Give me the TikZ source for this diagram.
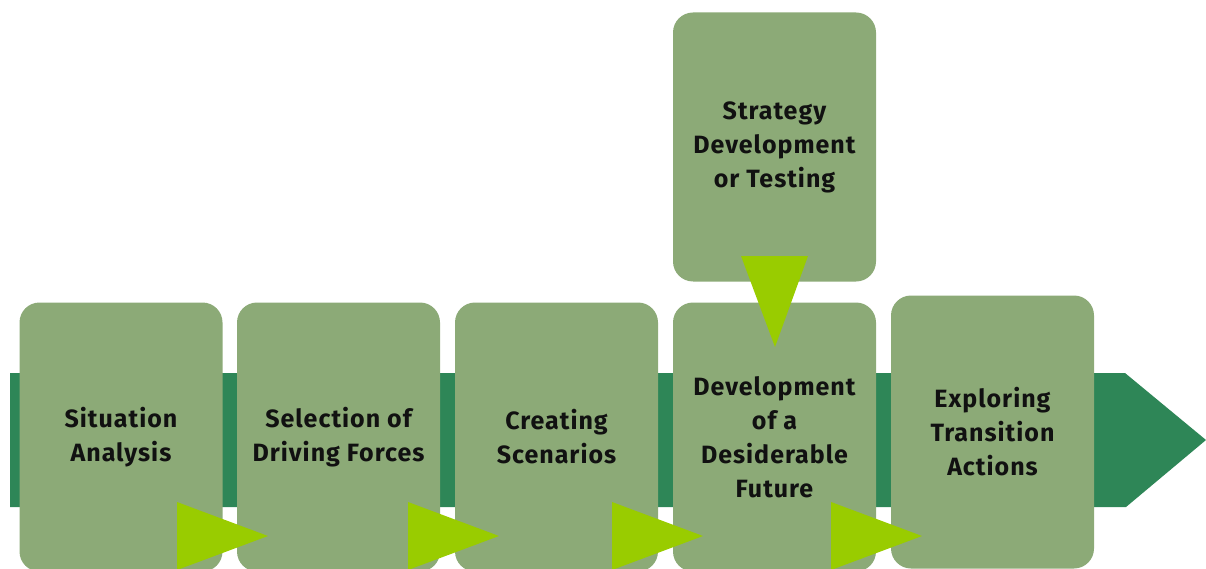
\documentclass[tikz,border=0pt]{standalone}
\usepackage{fontspec}
\setmainfont{Fira Sans}[LetterSpace=4]
\definecolor{boxgreen}{HTML}{8CAA77}
\definecolor{bandgreen}{HTML}{2E8657}
\definecolor{lime}{HTML}{99CC00}
\definecolor{txt}{HTML}{111111}
\tikzset{
  stepbox/.style={rectangle, rounded corners=20pt, fill=boxgreen, draw=none,
    minimum width=203pt, minimum height=269pt, inner sep=0pt, align=center,
    text=txt, font=\fontsize{25}{34}\selectfont\bfseries},
  pointer/.style={fill=lime, draw=none},
}
\begin{document}
\begin{tikzpicture}[x=1pt,y=-1pt]
\useasboundingbox (0,0) rectangle (1206,569);
\clip (0,0) rectangle (1206,569);
% band arrow
\fill[bandgreen] (10,373) -- (1125,373) -- (1206,440) -- (1126,507) -- (10,507) -- cycle;
% boxes
\node[stepbox] (s1) at (121,437) {Situation\\Analysis};
\node[stepbox] (s2) at (338.5,437) {Selection of\\Driving Forces};
\node[stepbox] (s3) at (556.5,437) {Creating\\Scenarios};
\node[stepbox] (s4) at (774.5,437) {Development\\of a\\Desiderable\\Future};
\node[stepbox, minimum height=273pt] (s5) at (992.5,432) {Exploring\\Transition\\Actions};
\node[stepbox] (top) at (774.5,147) {Strategy\\Development\\or Testing};
% triangles
\fill[pointer] (177,502) -- (268,536) -- (177,570) -- cycle;
\fill[pointer] (408,502) -- (499,536) -- (408,570) -- cycle;
\fill[pointer] (612,502) -- (703,536) -- (612,570) -- cycle;
\fill[pointer] (831,502) -- (922,536) -- (831,570) -- cycle;
\fill[pointer] (741,256) -- (808,256) -- (775,347) -- cycle;
\end{tikzpicture}
\end{document}
